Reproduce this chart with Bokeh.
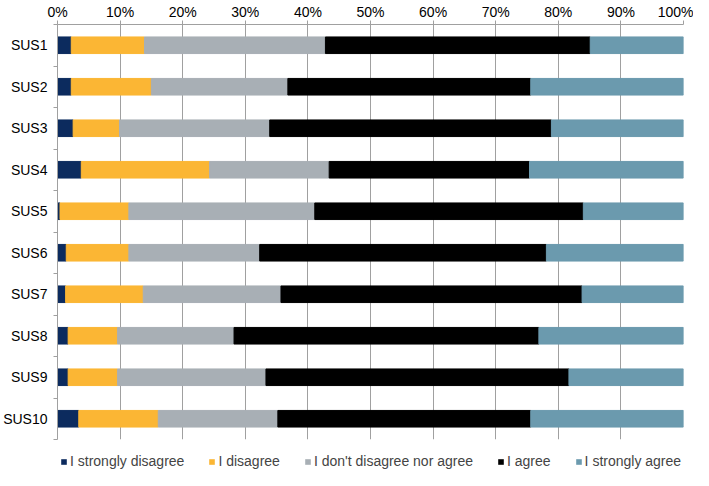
from bokeh.plotting import figure
from bokeh.layouts import column
from bokeh.models import (Range1d, FixedTicker, PrintfTickFormatter, Legend,
                          LegendItem, ColumnDataSource)
from bokeh.embed import file_html
from bokeh.resources import INLINE

questions = ["SUS1", "SUS2", "SUS3", "SUS4", "SUS5", "SUS6", "SUS7", "SUS8", "SUS9", "SUS10"]
responses = ["I strongly disagree", "I disagree", "I don't disagree nor agree",
             "I agree", "I strongly agree"]
strongly_disagree = [2.2, 2.2, 2.5, 3.8, 0.4, 1.4, 1.3, 1.7, 1.7, 3.4]
disagree = [11.7, 12.8, 7.4, 20.5, 11.0, 10.0, 12.4, 7.9, 7.9, 12.7]
neutral = [28.9, 21.8, 24.0, 19.1, 29.7, 20.9, 22.0, 18.6, 23.7, 19.1]
agree = [42.3, 38.8, 45.0, 32.0, 42.9, 45.8, 48.1, 48.7, 48.4, 40.4]
strongly_agree = [14.9, 24.4, 21.1, 24.6, 16.0, 21.9, 16.2, 23.1, 18.3, 24.4]
x_ticks = [0, 10, 20, 30, 40, 50, 60, 70, 80, 90, 100]

colors = ["#0c2b5e", "#fbb634", "#a8afb5", "#000000", "#6b9aae"]
keys = ["sd", "d", "n", "a", "sa"]
FONT = "Liberation Sans"
GRID = "#a0a0a0"

ypos = [i + 0.5 for i in range(len(questions))]
bounds = [i for i in range(len(questions) + 1)]

source = ColumnDataSource(dict(y=ypos, q=questions, sd=strongly_disagree, d=disagree,
                               n=neutral, a=agree, sa=strongly_agree))

p = figure(width=693, height=442, x_range=Range1d(0, 100),
           y_range=Range1d(len(questions), 0), x_axis_location="above",
           output_backend="svg", toolbar_location=None,
           min_border_left=50, min_border_right=10, min_border_top=10,
           min_border_bottom=3)
p.outline_line_color = None

renderers = p.hbar_stack(keys, y="y", height=0.4, color=colors, source=source)

# x axis (top)
xa = p.xaxis[0]
xa.ticker = FixedTicker(ticks=x_ticks)
xa.formatter = PrintfTickFormatter(format="%d%%")
xa.axis_line_color = GRID
xa.major_tick_line_color = GRID
xa.major_tick_in = 0
xa.major_tick_out = 4
xa.minor_tick_line_color = None
xa.major_label_text_font = FONT
xa.major_label_text_font_size = "14px"
xa.major_label_text_color = "black"
xa.major_label_standoff = 1

# y axis (left)
ya = p.yaxis[0]
ya.ticker = FixedTicker(ticks=ypos, minor_ticks=bounds)
ya.major_label_overrides = {y: q for y, q in zip(ypos, questions)}
ya.axis_line_color = GRID
ya.major_tick_line_color = None
ya.major_tick_in = 0
ya.major_tick_out = 0
ya.minor_tick_line_color = GRID
ya.minor_tick_in = 0
ya.minor_tick_out = 4
ya.major_label_text_font = FONT
ya.major_label_text_font_size = "14px"
ya.major_label_text_color = "black"
ya.major_label_standoff = 6

p.xgrid.ticker = FixedTicker(ticks=x_ticks)
p.xgrid.grid_line_color = GRID
p.ygrid.visible = False

# legend strip below the chart: hidden copies of the series, only swatches shown
lp = figure(width=693, height=28, x_range=Range1d(0, 100), y_range=Range1d(-3, -2),
            output_backend="svg", toolbar_location=None,
            min_border=0, outline_line_color=None)
lp.axis.visible = False
lp.grid.visible = False
lrends = lp.hbar_stack(keys, y="y", height=0.4, fill_color=colors, line_color=None,
                       source=source)
for r in lrends:
    r.visible = False

items = [LegendItem(label=lab, renderers=[r]) for lab, r in zip(responses, lrends)]
legend = Legend(items=items, orientation="horizontal", location=(2, 0),
                glyph_width=7, glyph_height=7, label_standoff=3, spacing=24,
                label_text_font=FONT, label_text_font_size="14px",
                inactive_fill_alpha=0,
                border_line_alpha=0, background_fill_alpha=0, padding=1, margin=0)
lp.add_layout(legend, "center")

layout = column(p, lp, spacing=0)
open("out.html", "w").write(file_html(layout, INLINE))
